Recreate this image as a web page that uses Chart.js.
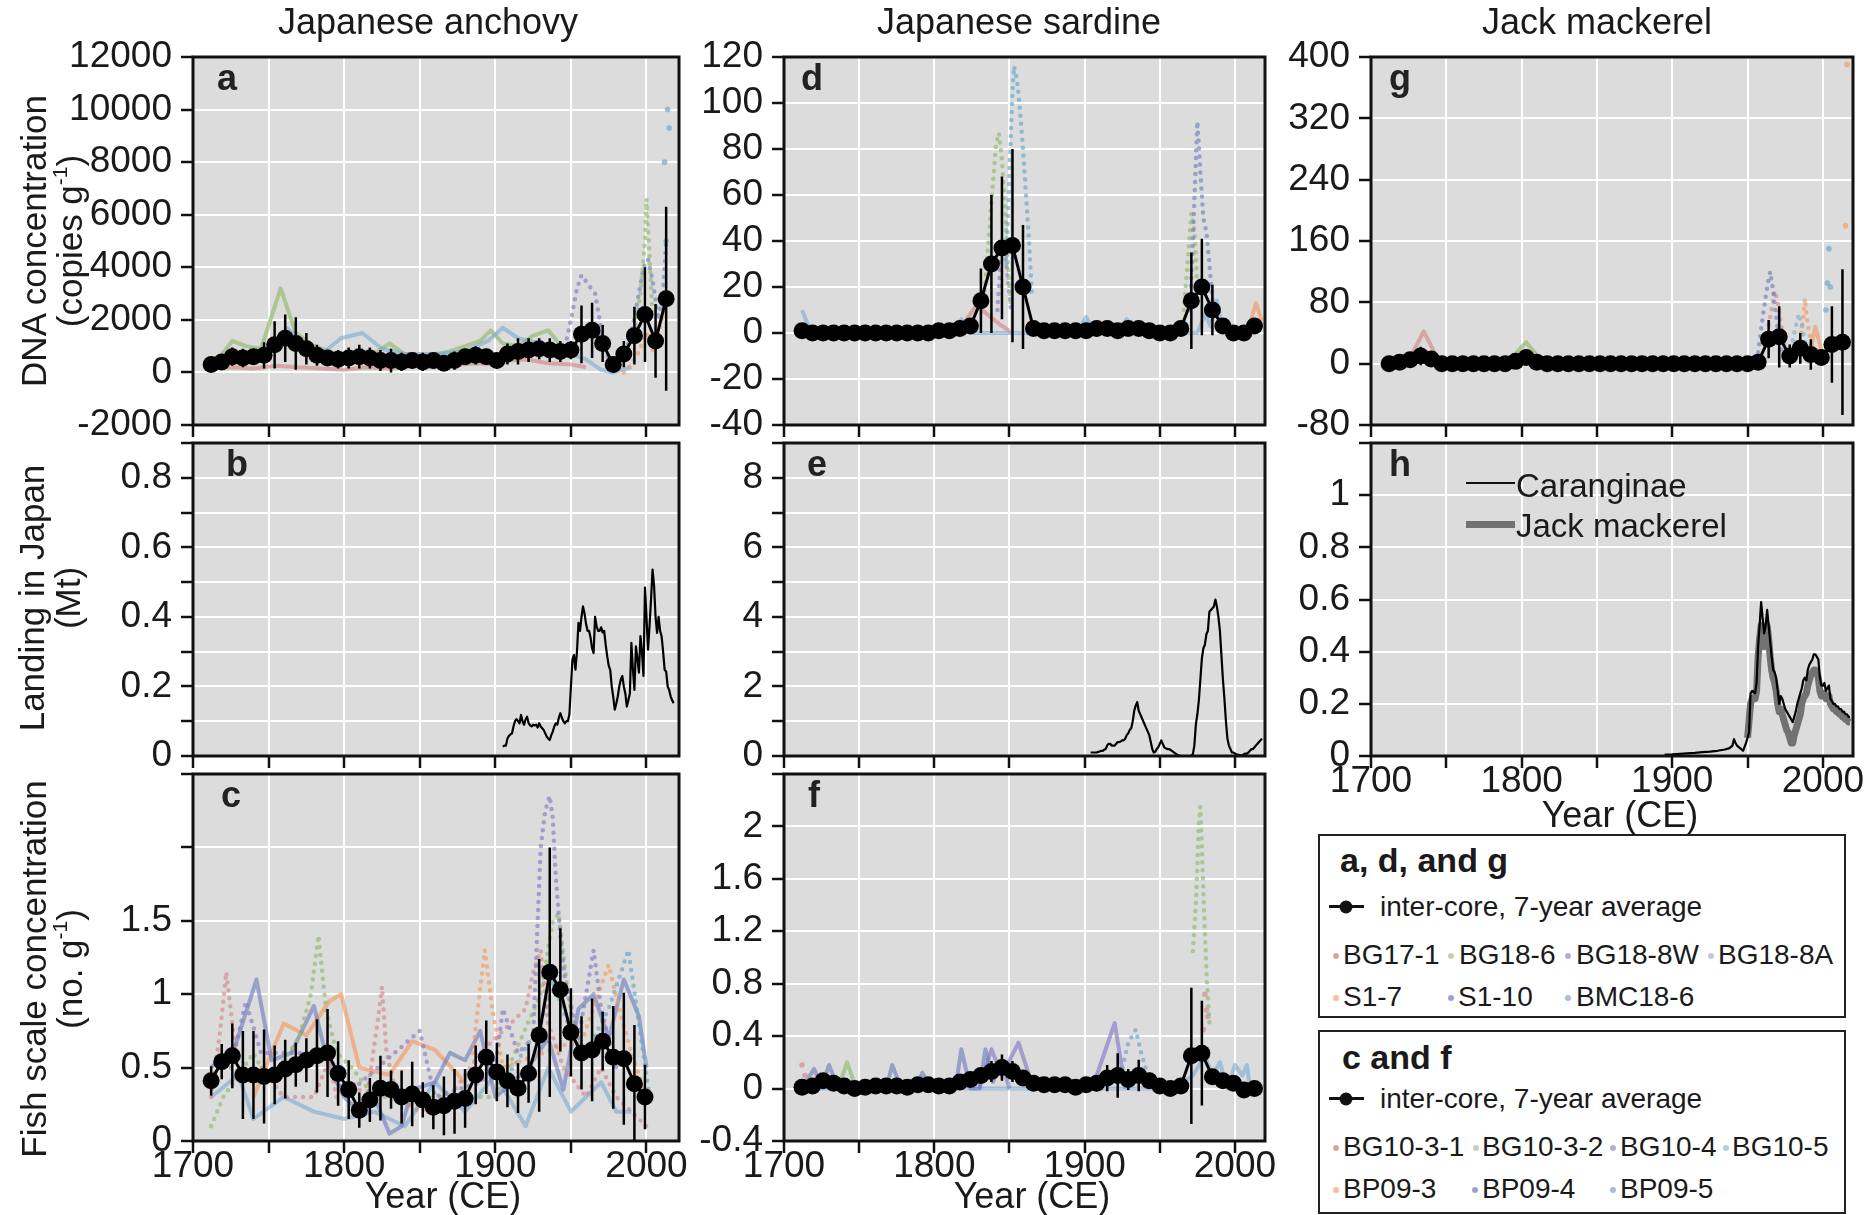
<!DOCTYPE html>
<html>
<head>
<meta charset="utf-8">
<script src="https://cdn.jsdelivr.net/npm/chart.js@4.4.1/dist/chart.umd.min.js"></script>
<style>
  body { margin: 0; background: #fff; font-family: "Liberation Sans", Arial, sans-serif; color: #1a1a1a; }
  #fig { position: relative; width: 1865px; height: 1215px; overflow: hidden; }
  canvas { position: absolute; }
  .c { position: absolute; transform: translate(-50%, -50%); line-height: 1; white-space: nowrap; z-index: 5; }
  .l { position: absolute; transform: translate(0, -50%); line-height: 1; white-space: nowrap; z-index: 5; }
  .ttl { font-size: 36px; }
  .ylab { position: absolute; transform: translate(-50%, -50%) rotate(-90deg); text-align: center;
          font-size: 35px; line-height: 36px; white-space: nowrap; z-index: 5; }
  .ylab sup { font-size: 60%; vertical-align: 0.7em; line-height: 0; }
  .let { position: absolute; font-weight: bold; font-size: 36px; line-height: 1; color: #222; z-index: 5; }
  .box { position: absolute; border: 2.5px solid #222; box-sizing: border-box; }
  .dot { position: absolute; width: 6px; height: 6px; border-radius: 50%; transform: translate(-50%, -50%); }
  .it { font-size: 28px; }
  .hd { font-size: 34px; font-weight: bold; }
</style>
</head>
<body>
<div id="fig">
  <!-- column titles -->
  <div class="c ttl" style="left:428px; top:22px;">Japanese anchovy</div>
  <div class="c ttl" style="left:1019px; top:22px;">Japanese sardine</div>
  <div class="c ttl" style="left:1597px; top:22px;">Jack mackerel</div>

  <!-- y axis titles -->
  <div class="ylab" style="left:52px; top:241px;">DNA concentration<br>(copies g<sup>-1</sup>)</div>
  <div class="ylab" style="left:50px; top:598px;">Landing in Japan<br>(Mt)</div>
  <div class="ylab" style="left:52px; top:969px;">Fish scale concentration<br>(no. g<sup>-1</sup>)</div>

  <!-- x axis titles -->
  <div class="c ttl" style="left:443px; top:1196px;">Year (CE)</div>
  <div class="c ttl" style="left:1032px; top:1196px;">Year (CE)</div>
  <div class="c ttl" style="left:1620px; top:815px;">Year (CE)</div>

  <!-- panel letters -->
  <div class="let" style="left:217px; top:60px;">a</div>
  <div class="let" style="left:226px; top:446px;">b</div>
  <div class="let" style="left:221px; top:777px;">c</div>
  <div class="let" style="left:801px; top:60px;">d</div>
  <div class="let" style="left:807px; top:446px;">e</div>
  <div class="let" style="left:808px; top:777px;">f</div>
  <div class="let" style="left:1389px; top:60px;">g</div>
  <div class="let" style="left:1389px; top:446px;">h</div>

  <!-- legend inside h -->
  <div style="position:absolute; left:1466px; top:482px; width:49px; height:2px; background:#111; z-index:5;"></div>
  <div class="l" style="left:1516px; top:485px; font-size:33px;">Caranginae</div>
  <div style="position:absolute; left:1466px; top:521px; width:49px; height:7px; background:#727272; z-index:5;"></div>
  <div class="l" style="left:1516px; top:525px; font-size:33px;">Jack mackerel</div>

  <!-- legend box 1 -->
  <div class="box" style="left:1318px; top:834px; width:528px; height:184px;"></div>
  <div class="l hd" style="left:1340px; top:860px;">a, d, and g</div>
  <div style="position:absolute; left:1329px; top:905px; width:35px; height:3px; background:#111;"></div>
  <div class="dot" style="left:1346px; top:907px; width:13px; height:13px; background:#111;"></div>
  <div class="l it" style="left:1380px; top:907px;">inter-core, 7-year average</div>
  <div class="dot" style="left:1336px; top:956px; background:#dba3a3;"></div>
  <div class="l it" style="left:1343px; top:955px;">BG17-1</div>
  <div class="dot" style="left:1451px; top:956px; background:#c4d2b4;"></div>
  <div class="l it" style="left:1459px; top:955px;">BG18-6</div>
  <div class="dot" style="left:1568px; top:956px; background:#b3aed4;"></div>
  <div class="l it" style="left:1576px; top:955px;">BG18-8W</div>
  <div class="dot" style="left:1711px; top:956px; background:#b6cde2;"></div>
  <div class="l it" style="left:1718px; top:955px;">BG18-8A</div>
  <div class="dot" style="left:1336px; top:998px; background:#f2c0a2;"></div>
  <div class="l it" style="left:1343px; top:997px;">S1-7</div>
  <div class="dot" style="left:1451px; top:998px; background:#9aa3cc;"></div>
  <div class="l it" style="left:1458px; top:997px;">S1-10</div>
  <div class="dot" style="left:1568px; top:998px; background:#a6bfd8;"></div>
  <div class="l it" style="left:1576px; top:997px;">BMC18-6</div>

  <!-- legend box 2 -->
  <div class="box" style="left:1318px; top:1030px; width:528px; height:184px;"></div>
  <div class="l hd" style="left:1342px; top:1057px;">c and f</div>
  <div style="position:absolute; left:1329px; top:1097px; width:35px; height:3px; background:#111;"></div>
  <div class="dot" style="left:1346px; top:1099px; width:13px; height:13px; background:#111;"></div>
  <div class="l it" style="left:1380px; top:1099px;">inter-core, 7-year average</div>
  <div class="dot" style="left:1336px; top:1148px; background:#dba3a3;"></div>
  <div class="l it" style="left:1343px; top:1147px;">BG10-3-1</div>
  <div class="dot" style="left:1476px; top:1148px; background:#c9cfc0;"></div>
  <div class="l it" style="left:1482px; top:1147px;">BG10-3-2</div>
  <div class="dot" style="left:1613px; top:1148px; background:#b3aed4;"></div>
  <div class="l it" style="left:1620px; top:1147px;">BG10-4</div>
  <div class="dot" style="left:1726px; top:1148px; background:#b6cde2;"></div>
  <div class="l it" style="left:1732px; top:1147px;">BG10-5</div>
  <div class="dot" style="left:1336px; top:1190px; background:#f2c0a2;"></div>
  <div class="l it" style="left:1343px; top:1189px;">BP09-3</div>
  <div class="dot" style="left:1475px; top:1190px; background:#9aa3cc;"></div>
  <div class="l it" style="left:1482px; top:1189px;">BP09-4</div>
  <div class="dot" style="left:1613px; top:1190px; background:#a6bfd8;"></div>
  <div class="l it" style="left:1620px; top:1189px;">BP09-5</div>
</div>

<script>
// ---- axis ticks ----
const xTicks = [1700, 1750, 1800, 1850, 1900, 1950, 2000];
const xTickLabels = ['1700', '', '1800', '', '1900', '', '2000'];
const aTicks = [-2000, 0, 2000, 4000, 6000, 8000, 10000, 12000];
const aLabels = ['-2000', '0', '2000', '4000', '6000', '8000', '10000', '12000'];
const bTicks = [0, 0.1, 0.2, 0.3, 0.4, 0.5, 0.6, 0.7, 0.8, 0.9];
const bLabels = ['0', '', '0.2', '', '0.4', '', '0.6', '', '0.8', ''];
const cTicks = [0, 0.5, 1, 1.5, 2, 2.5];
const cLabels = ['0', '0.5', '1', '1.5', '', ''];
const dTicks = [-40, -20, 0, 20, 40, 60, 80, 100, 120];
const dLabels = ['-40', '-20', '0', '20', '40', '60', '80', '100', '120'];
const eTicks = [0, 1, 2, 3, 4, 5, 6, 7, 8, 9];
const eLabels = ['0', '', '2', '', '4', '', '6', '', '8', ''];
const fTicks = [-0.4, 0, 0.4, 0.8, 1.2, 1.6, 2, 2.4];
const fLabels = ['-0.4', '0', '0.4', '0.8', '1.2', '1.6', '2', ''];
const gTicks = [-80, 0, 80, 160, 240, 320, 400];
const gLabels = ['-80', '0', '80', '160', '240', '320', '400'];
const hTicks = [0, 0.2, 0.4, 0.6, 0.8, 1, 1.2];
const hLabels = ['0', '0.2', '0.4', '0.6', '0.8', '1', ''];

// ---- inter-core 7-year averages ----
const avgYears = [1712, 1719, 1726, 1733, 1740, 1747, 1754, 1761, 1768, 1775, 1782, 1789, 1796, 1803, 1810,
  1817, 1824, 1831, 1838, 1845, 1852, 1859, 1866, 1873, 1880, 1887, 1894, 1901, 1908, 1915, 1922, 1929,
  1936, 1943, 1950, 1957, 1964, 1971, 1978, 1985, 1992, 1999, 2006, 2013];

const aAvg = [300, 400, 600, 550, 600, 650, 1050, 1300, 1100, 900, 650, 550, 500, 550, 600, 550, 450, 450,
  400, 450, 400, 450, 350, 450, 600, 650, 600, 450, 700, 800, 850, 900, 850, 800, 850, 1450, 1600, 1100,
  300, 700, 1400, 2200, 1200, 2800];
const aErr = [200, 250, 350, 350, 300, 500, 900, 900, 1000, 600, 400, 300, 350, 400, 450, 400, 400, 450,
  350, 300, 350, 300, 250, 350, 300, 350, 300, 300, 400, 500, 450, 400, 450, 400, 350, 1100, 1050, 700,
  250, 500, 1100, 1800, 1400, 3500];

const dAvg = [1, 0, 0, 0, 0, 0, 0, 0, 0, 0, 0, 0, 0, 1, 1, 2, 3, 14, 30, 37, 38, 20, 2, 1, 1, 1, 1, 1, 2, 2,
  1, 2, 2, 1, 0, 0, 2, 14, 20, 10, 3, 0, 0, 3];
const dErr = [1, 1, 1, 1, 1, 1, 1, 1, 1, 1, 1, 1, 1, 1, 1, 2, 2, 14, 30, 31, 42, 27, 2, 1, 1, 1, 1, 1, 2, 2,
  1, 2, 2, 1, 1, 1, 2, 21, 21, 11, 2, 1, 1, 2];

const gAvg = [0, 2, 5, 10, 6, 0, 0, 0, 0, 0, 0, 0, 3, 8, 2, 0, 0, 0, 0, 0, 0, 0, 0, 0, 0, 0, 0, 0, 0, 0,
  0, 0, 0, 0, 0, 2, 32, 35, 10, 20, 12, 8, 25, 28];
const gErr = [2, 3, 5, 12, 5, 2, 2, 2, 2, 2, 2, 2, 3, 6, 3, 2, 2, 2, 2, 2, 2, 2, 2, 2, 2, 2, 2, 2, 2, 2,
  2, 2, 2, 2, 2, 3, 25, 40, 15, 20, 20, 10, 50, 95];

const cAvg = [0.41, 0.54, 0.58, 0.45, 0.45, 0.44, 0.45, 0.49, 0.52, 0.55, 0.58, 0.6, 0.46, 0.35, 0.21, 0.28,
  0.36, 0.35, 0.3, 0.32, 0.28, 0.23, 0.24, 0.27, 0.29, 0.45, 0.57, 0.47, 0.41, 0.36, 0.46, 0.72, 1.15, 1.03,
  0.74, 0.6, 0.62, 0.68, 0.57, 0.56, 0.39, 0.3];
const cErr = [0.1, 0.12, 0.22, 0.3, 0.3, 0.32, 0.2, 0.2, 0.15, 0.15, 0.25, 0.3, 0.22, 0.2, 0.12, 0.15, 0.22,
  0.13, 0.18, 0.22, 0.12, 0.15, 0.2, 0.22, 0.2, 0.2, 0.25, 0.2, 0.18, 0.17, 0.2, 0.52, 0.85, 0.42, 0.3, 0.25,
  0.35, 0.2, 0.35, 0.45, 0.4, 0.22];

const fAvg = [0.01, 0.02, 0.06, 0.04, 0.02, 0, 0.01, 0.02, 0.02, 0.02, 0.01, 0.03, 0.03, 0.02, 0.02, 0.05,
  0.07, 0.1, 0.13, 0.16, 0.13, 0.08, 0.04, 0.03, 0.03, 0.03, 0.01, 0.03, 0.04, 0.08, 0.1, 0.07, 0.1, 0.06,
  0.02, 0, 0.02, 0.25, 0.27, 0.09, 0.06, 0.04, -0.01, 0];
const fErr = [0.03, 0.04, 0.04, 0.03, 0.03, 0.03, 0.03, 0.03, 0.03, 0.03, 0.03, 0.03, 0.04, 0.04, 0.05,
  0.05, 0.06, 0.06, 0.08, 0.1, 0.08, 0.05, 0.04, 0.04, 0.03, 0.03, 0.03, 0.04, 0.06, 0.1, 0.17, 0.08, 0.12,
  0.06, 0.04, 0.03, 0.04, 0.52, 0.4, 0.06, 0.05, 0.04, 0.03, 0.03];

// ---- individual cores, panel a ----
const aBG17_1 = [[1712,150],[1725,200],[1740,150],[1755,250],[1770,200],[1785,150],[1800,100],[1815,200],
  [1830,150],[1845,250],[1860,200],[1875,300],[1890,350],[1900,300],[1910,450],[1920,500],[1935,350],[1950,300],[1960,200]];
const aBG18_6 = [[1712,300],[1718,600],[1726,1200],[1735,1000],[1745,900],[1758,3200],[1768,1500],[1780,1000],
  [1795,700],[1810,600],[1822,800],[1830,1100],[1840,700],[1855,600],[1870,800],[1880,1000],[1890,1200],
  [1897,1600],[1905,1100],[1915,1000],[1925,1400],[1935,1600],[1945,900],[1955,700]];
const aBG18_6late = [[1992,1500],[1996,3000],[1999,5000],[2000,6600],[2002,4500],[2004,2000]];
const aBG18_8A = [[1712,400],[1740,500],[1755,900],[1762,1700],[1772,1200],[1785,700],[1798,1300],[1812,1500],
  [1825,900],[1840,700],[1860,700],[1880,800],[1895,1200],[1905,1700],[1915,1300],[1930,1100],[1945,800],
  [1960,500],[1970,100],[1978,0],[1990,200]];
const aBG18_8W = [[1945,700],[1950,2000],[1954,3200],[1957,3700],[1962,3300],[1966,3000],[1969,2000],
  [1972,1000],[1976,300],[1980,0]];
const aS1_10 = [[1985,500],[1990,1500],[1995,3000],[1998,4000],[2001,4300],[2004,3500],[2008,2000],[2011,3000],[2013,5000]];
const aS1_7 = [[1985,0],[1990,300],[1995,800],[2000,1500],[2005,700],[2010,2000],[2014,2500]];
const aBMC18_6 = [[2012,8000],[2013,5000],[2014,10000],[2015,9300]];

// ---- individual cores, panel d ----
const dBG18_8A = [[1712,10],[1718,0],[1810,0],[1818,6],[1824,0],[1895,0],[1901,7],[1907,0],[1922,0],[1928,6],
  [1934,0],[1975,0],[1980,8],[1984,3],[1988,14],[1992,0]];
const dBG17_1 = [[1815,0],[1828,12],[1843,4],[1852,0]];
const dBG18_6 = [[1833,15],[1836,40],[1839,65],[1841,82],[1843,87],[1845,75],[1847,55],[1849,30],[1851,10]];
const dBMC18_6 = [[1848,30],[1850,70],[1852,105],[1853,116],[1855,110],[1857,97],[1859,80],[1861,60],[1863,40],[1865,15]];
const dBG18_8W = [[1842,10],[1845,40],[1848,30],[1851,10]];
const dBG18_6late = [[1966,10],[1969,35],[1971,52],[1973,45],[1975,20]];
const dS1_10 = [[1970,10],[1972,40],[1974,75],[1975,92],[1977,70],[1979,50],[1981,44],[1983,30],[1985,15],[1988,5]];
const dS1_7 = [[2008,0],[2014,13],[2018,5]];

// ---- individual cores, panel g ----
const gBG17_1 = [[1712,0],[1724,0],[1735,42],[1746,0],[1760,0]];
const gBG18_6 = [[1790,0],[1803,28],[1815,0]];
const gS1_10 = [[1957,15],[1960,60],[1963,100],[1965,120],[1967,95],[1970,45],[1973,10]];
const gBG17_1late = [[1962,30],[1965,60],[1968,95],[1970,80],[1973,40],[1976,10]];
const gBG18_8A = [[1978,10],[1981,40],[1984,65],[1986,50],[1989,20],[1992,5]];
const gS1_7 = [[1984,20],[1987,60],[1988,85],[1990,50],[1993,20]];
const gS1_7line = [[1990,0],[1995,48],[2000,10]];
const gBMC18_6 = [[2002,70],[2003,105],[2004,150],[2005,100]];
const gS1_7top = [[2015,180],[2016,390]];

// ---- individual cores, panel c ----
const cBP09_4 = [[1712,0.5],[1728,0.65],[1742,1.1],[1752,0.55],[1765,0.6],[1780,0.92],[1790,0.5],[1800,0.3],
  [1810,0.2],[1820,0.3],[1830,0.05],[1838,0.1],[1845,0.35],[1860,0.4],[1870,0.6],[1880,0.55],[1890,0.75],
  [1900,0.3],[1912,0.4],[1925,0.55],[1935,0.7],[1945,0.35],[1955,0.9],[1965,1.0],[1975,0.7],[1985,1.1],[1995,0.85],[2000,0.5]];
const cBP09_3 = [[1740,0.3],[1760,0.8],[1775,0.72],[1790,0.95],[1798,1.0],[1810,0.5],[1830,0.45],[1845,0.68],[1860,0.62],[1880,0.4]];
const cBG10_5 = [[1712,0.3],[1730,0.45],[1740,0.15],[1760,0.3],[1780,0.2],[1800,0.15],[1820,0.2],[1840,0.1],
  [1860,0.4],[1880,0.2],[1900,0.45],[1920,0.1],[1935,0.5],[1950,0.2],[1960,0.3],[1970,0.4],[1980,0.2],[1990,0.2]];
const cBG10_3_1 = [[1712,0.3],[1718,0.75],[1722,1.15],[1726,0.8],[1730,0.4],[1745,0.5],[1760,0.3],[1780,0.3],
  [1790,0.55],[1795,0.3],[1805,0.4],[1815,0.3],[1822,0.8],[1825,1.05],[1828,0.6],[1835,0.3],[1850,0.2],
  [1870,0.3],[1890,0.6],[1920,0.9],[1925,1.15],[1930,1.3],[1935,0.8],[1945,0.5],[1960,0.3],[1970,0.5],
  [1980,0.3],[1990,0.2],[2000,0.1]];
const cBG10_3_2 = [[1712,0.1],[1720,0.3],[1740,0.6],[1750,0.4],[1770,0.7],[1778,1.0],[1783,1.4],[1788,0.9],
  [1795,0.6],[1805,0.5],[1820,0.3],[1900,0.3],[1930,1.0],[1938,1.5],[1942,1.55],[1948,1.0],[1955,0.6]];
const cBG10_4 = [[1725,0.5],[1735,0.95],[1745,0.6],[1790,0.6],[1800,0.3],[1850,0.75],[1860,0.3],[1890,0.4],
  [1900,0.5],[1905,0.9],[1915,0.6],[1925,0.7],[1928,1.5],[1930,2.0],[1933,2.25],[1936,2.35],[1938,2.2],
  [1940,1.8],[1943,1.4],[1946,1.1],[1955,0.7],[1965,1.3],[1970,0.9],[1980,0.5]];
const cBP09_3dots = [[1885,0.6],[1893,1.3],[1898,0.9],[1905,0.5],[1958,0.7],[1968,1.0],[1975,1.2],[1982,0.9],[1990,0.6],[2000,0.3]];
const cBP09_5 = [[1905,0.4],[1915,0.55],[1930,0.8],[1938,1.1],[1948,0.8],[1960,0.6],[1975,0.9],[1988,1.3],[1995,0.8],[2002,0.3]];

// ---- individual cores, panel f ----
const fBG10_3_2 = [[1972,1.05],[1974,1.4],[1975,1.7],[1976,2.05],[1977,2.15],[1978,1.85],[1979,1.5],[1980,1.2],[1981,0.9],[1983,0.5]];
const fBP09_4 = [[1712,0],[1720,0.15],[1725,0.02],[1730,0.18],[1736,0],[1768,0],[1772,0.18],[1778,0],[1788,0],
  [1792,0.12],[1798,0],[1814,0],[1818,0.3],[1824,0],[1830,0],[1834,0.3],[1839,0.05],[1845,0.2],[1850,0]];
const fBG10_4 = [[1830,0],[1838,0.3],[1845,0.1],[1856,0.35],[1866,0],[1905,0],[1914,0.3],[1920,0.5],[1927,0]];
const fBG10_3_2line = [[1736,0],[1742,0.2],[1748,0]];
const fBP09_5 = [[1924,0.1],[1929,0.35],[1934,0.45],[1937,0.3],[1942,0.1]];
const fBG10_3_1 = [[1712,0.18],[1714,0.1],[1979,0.45],[1980,0.72],[1981,0.6],[1982,0.55]];
const fBG10_5 = [[1712,0],[1800,0],[1900,0],[1960,0],[1972,0.1],[1980,0.25],[1985,0.1],[1990,0.2],[1995,0],
  [2000,0.18],[2005,0.1],[2008,0.18],[2010,0]];

// ---- landings (Mt) ----
const anchovyLanding = [[1905,0.027],[1906,0.03],[1907,0.03],[1908,0.05],[1909,0.058],[1910,0.062],[1911,0.065],
  [1912,0.085],[1913,0.1],[1914,0.106],[1915,0.1],[1916,0.094],[1917,0.118],[1918,0.1],[1919,0.09],[1920,0.105],
  [1921,0.113],[1922,0.095],[1923,0.088],[1924,0.085],[1925,0.09],[1926,0.088],[1927,0.09],[1928,0.082],
  [1929,0.094],[1930,0.085],[1931,0.08],[1932,0.075],[1933,0.065],[1934,0.056],[1935,0.05],[1936,0.046],
  [1937,0.06],[1938,0.07],[1939,0.085],[1940,0.094],[1941,0.09],[1942,0.11],[1943,0.123],[1944,0.11],
  [1945,0.1],[1946,0.094],[1947,0.1],[1948,0.1],[1949,0.12],[1950,0.2],[1951,0.277],[1952,0.29],[1953,0.248],
  [1954,0.3],[1955,0.383],[1956,0.36],[1957,0.4],[1958,0.43],[1959,0.41],[1960,0.38],[1961,0.36],[1962,0.36],
  [1963,0.34],[1964,0.31],[1965,0.296],[1966,0.4],[1967,0.373],[1968,0.36],[1969,0.36],[1970,0.37],[1971,0.355],
  [1972,0.36],[1973,0.32],[1974,0.287],[1975,0.26],[1976,0.248],[1977,0.2],[1978,0.17],[1979,0.133],[1980,0.15],
  [1981,0.171],[1982,0.2],[1983,0.22],[1984,0.23],[1985,0.2],[1986,0.18],[1987,0.142],[1988,0.16],[1989,0.18],
  [1990,0.325],[1991,0.25],[1992,0.19],[1993,0.315],[1994,0.28],[1995,0.24],[1996,0.345],[1997,0.3],[1998,0.23],
  [1999,0.484],[2000,0.4],[2001,0.306],[2002,0.373],[2003,0.45],[2004,0.536],[2005,0.49],[2006,0.4],[2007,0.354],
  [2008,0.4],[2009,0.36],[2010,0.344],[2011,0.3],[2012,0.248],[2013,0.243],[2014,0.2],[2015,0.19],[2016,0.171],
  [2017,0.16],[2018,0.152]];
const sardineLanding = [[1904,0.1],[1905,0.1],[1906,0.1],[1907,0.1],[1908,0.1],[1909,0.12],[1910,0.13],[1911,0.15],
  [1912,0.15],[1913,0.18],[1914,0.2],[1915,0.3],[1916,0.35],[1917,0.35],[1918,0.3],[1919,0.3],[1920,0.3],[1921,0.35],
  [1922,0.4],[1923,0.4],[1924,0.42],[1925,0.45],[1926,0.45],[1927,0.5],[1928,0.6],[1929,0.65],[1930,0.75],[1931,0.8],
  [1932,1.0],[1933,1.3],[1934,1.45],[1935,1.55],[1936,1.3],[1937,1.2],[1938,1.1],[1939,1.0],[1940,0.9],[1941,0.8],
  [1942,0.7],[1943,0.6],[1944,0.4],[1945,0.2],[1946,0.1],[1947,0.12],[1948,0.2],[1949,0.25],[1950,0.35],[1951,0.45],
  [1952,0.35],[1953,0.25],[1954,0.22],[1955,0.2],[1956,0.2],[1957,0.18],[1958,0.15],[1959,0.12],[1960,0.08],
  [1961,0.05],[1962,0.03],[1963,0.01],[1964,0],[1965,0],[1966,0],[1967,0],[1968,0],[1969,0],[1970,0],[1971,0.01],
  [1972,0.05],[1973,0.3],[1974,0.9],[1975,1.2],[1976,1.6],[1977,2.2],[1978,2.8],[1979,3.1],[1980,3.2],[1981,3.5],
  [1982,3.6],[1983,4.15],[1984,4.2],[1985,4.25],[1986,4.3],[1987,4.5],[1988,4.3],[1989,4.0],[1990,3.6],[1991,2.9],
  [1992,2.2],[1993,1.65],[1994,1.0],[1995,0.5],[1996,0.3],[1997,0.2],[1998,0.1],[1999,0.1],[2000,0.07],[2001,0.05],
  [2002,0.03],[2003,0.03],[2004,0.02],[2005,0.03],[2006,0.05],[2007,0.07],[2008,0.07],[2009,0.1],[2010,0.15],
  [2011,0.2],[2012,0.2],[2013,0.25],[2014,0.3],[2015,0.35],[2016,0.4],[2017,0.45],[2018,0.5]];
const caranginaeLanding = [[1895,0.005],[1900,0.006],[1905,0.008],[1910,0.01],[1915,0.012],[1920,0.015],[1925,0.017],
  [1930,0.02],[1935,0.025],[1938,0.03],[1940,0.04],[1941,0.065],[1942,0.05],[1943,0.04],[1945,0.03],[1947,0.02],
  [1949,0.05],[1951,0.09],[1952,0.24],[1953,0.25],[1955,0.24],[1956,0.28],[1957,0.42],[1958,0.5],[1959,0.59],
  [1960,0.53],[1961,0.47],[1962,0.5],[1963,0.56],[1964,0.5],[1965,0.44],[1966,0.38],[1967,0.33],[1968,0.32],
  [1969,0.3],[1970,0.25],[1971,0.2],[1972,0.23],[1973,0.22],[1974,0.2],[1975,0.18],[1976,0.17],[1977,0.16],
  [1978,0.15],[1979,0.14],[1980,0.13],[1981,0.15],[1982,0.17],[1983,0.2],[1984,0.22],[1985,0.24],[1986,0.26],
  [1987,0.29],[1988,0.3],[1989,0.29],[1990,0.33],[1991,0.35],[1992,0.36],[1993,0.37],[1994,0.39],[1995,0.39],
  [1996,0.38],[1997,0.37],[1998,0.3],[1999,0.27],[2000,0.27],[2001,0.28],[2002,0.25],[2003,0.26],[2004,0.27],
  [2005,0.22],[2006,0.21],[2007,0.2],[2008,0.2],[2009,0.19],[2010,0.19],[2011,0.18],[2012,0.18],[2013,0.17],
  [2014,0.17],[2015,0.16],[2016,0.16],[2017,0.15],[2018,0.15]];
const jackLanding = [[1950,0.07],[1952,0.2],[1953,0.22],[1955,0.22],[1956,0.25],[1957,0.38],[1958,0.45],[1959,0.5],
  [1960,0.46],[1961,0.42],[1962,0.45],[1963,0.5],[1964,0.45],[1965,0.38],[1966,0.33],[1967,0.3],[1968,0.28],
  [1969,0.25],[1970,0.2],[1971,0.17],[1972,0.18],[1973,0.16],[1974,0.14],[1975,0.12],[1976,0.1],[1977,0.09],
  [1978,0.07],[1979,0.05],[1980,0.05],[1981,0.08],[1982,0.1],[1983,0.12],[1984,0.14],[1985,0.16],[1986,0.2],
  [1987,0.22],[1988,0.23],[1989,0.24],[1990,0.27],[1991,0.29],[1992,0.31],[1993,0.32],[1994,0.33],[1995,0.33],
  [1996,0.32],[1997,0.3],[1998,0.25],[1999,0.23],[2000,0.23],[2001,0.24],[2002,0.22],[2003,0.23],[2004,0.23],
  [2005,0.2],[2006,0.19],[2007,0.18],[2008,0.18],[2009,0.17],[2010,0.17],[2011,0.16],[2012,0.16],[2013,0.15],
  [2014,0.15],[2015,0.14],[2016,0.14],[2017,0.13],[2018,0.13]];

// ---- layout ----
const fig = document.getElementById('fig');
const FONT = "'Liberation Sans', Arial, sans-serif";
const ROWS = [{ t: 57, b: 425 }, { t: 443, b: 756 }, { t: 774, b: 1141 }];
const COLS = [{ l: 193, r: 679, cl: 0, xmax: 2021.5 }, { l: 784, r: 1265, cl: 690, xmax: 2020 },
              { l: 1371, r: 1853, cl: 1272, xmax: 2020 }];
const C = {
  red: 'rgba(212,128,128,0.6)', green: 'rgba(150,188,112,0.7)', purple: 'rgba(140,128,196,0.7)',
  blue: 'rgba(122,170,212,0.6)', orange: 'rgba(242,156,102,0.7)', slate: 'rgba(104,120,188,0.6)',
  teal: 'rgba(108,170,204,0.7)'
};

const pairs = arr => arr.map(([x, y]) => ({ x, y }));

function avgSet(ys, n) {
  return { data: avgYears.slice(0, n).map((x, i) => ({ x, y: ys[i] })), showLine: true, borderColor: '#000',
           borderWidth: 3, pointRadius: 8.5, pointBackgroundColor: '#000', pointBorderWidth: 0 };
}
function errSet(ys, es, n) {
  const d = [];
  avgYears.slice(0, n).forEach((x, i) => { d.push({ x, y: ys[i] - es[i] }, { x, y: ys[i] + es[i] }, { x, y: null }); });
  return { data: d, showLine: true, spanGaps: false, borderColor: '#000', borderWidth: 2.5, pointRadius: 0 };
}
function coreLine(arr, color, w) {
  return { data: pairs(arr), showLine: true, borderColor: color, borderWidth: w || 4, pointRadius: 0, borderJoinStyle: 'round' };
}
function coreDots(arr, color) {
  return { data: pairs(arr), showLine: true, borderColor: color, borderWidth: 4.5, borderDash: [0, 8],
           borderCapStyle: 'round', pointRadius: 0 };
}
function coreMarks(arr, color) {
  return { data: pairs(arr), showLine: false, pointRadius: 2.8, pointBackgroundColor: color, pointBorderWidth: 0 };
}

const framePlugin = {
  id: 'frame',
  beforeDraw(chart) {
    const { ctx, chartArea: a } = chart;
    ctx.save();
    ctx.fillStyle = '#dcdcdc';
    ctx.fillRect(a.left, a.top, a.right - a.left, a.bottom - a.top);
    ctx.restore();
  },
  afterDraw(chart) {
    const { ctx, chartArea: a } = chart;
    ctx.save();
    ctx.strokeStyle = '#111';
    ctx.lineWidth = 3;
    ctx.strokeRect(a.left, a.top, a.right - a.left, a.bottom - a.top);
    ctx.restore();
  }
};

// scale size is fixed and label overflow padding switched off so the plot box lands where we want it
function fixSize(s, key, v) {
  s[key] = v;
  s.paddingTop = 0; s.paddingBottom = 0; s.paddingLeft = 0; s.paddingRight = 0;
}

function panel(col, row, o) {
  const padTop = 22, padRight = 12;
  const { l, r, cl, xmax } = COLS[col];
  const { t, b } = ROWS[row];
  const xh = o.xLabels ? 62 : 16;
  const w = r - cl + padRight, h = b - t + padTop + xh;
  const cv = document.createElement('canvas');
  cv.width = w; cv.height = h;
  Object.assign(cv.style, { left: cl + 'px', top: (t - padTop) + 'px', width: w + 'px', height: h + 'px' });
  fig.appendChild(cv);
  const grid = { color: '#ffffff', lineWidth: 2, tickColor: '#111', tickLength: 12, tickWidth: 2.5 };
  const tickFont = { family: FONT, size: 37, lineHeight: 1.2 };
  new Chart(cv, {
    type: 'scatter',
    data: { datasets: o.datasets },
    options: {
      responsive: false, animation: false, devicePixelRatio: 1,
      layout: { padding: { top: padTop, right: padRight, left: 0, bottom: 0 } },
      plugins: { legend: { display: false }, tooltip: { enabled: false } },
      scales: {
        x: {
          type: 'linear', min: 1700, max: xmax,
          afterBuildTicks: ax => { ax.ticks = xTicks.map(v => ({ value: v })); },
          afterFit: s => fixSize(s, 'height', xh),
          grid, border: { display: false },
          ticks: { autoSkip: false, maxRotation: 0, padding: -8, color: '#1a1a1a', font: tickFont,
                   callback: (v, i) => (o.xLabels ? xTickLabels[i] : '') }
        },
        y: {
          type: 'linear', min: o.yTicks[0], max: o.yTicks[o.yTicks.length - 1],
          afterBuildTicks: ax => { ax.ticks = o.yTicks.map(v => ({ value: v })); },
          afterFit: s => fixSize(s, 'width', l - cl),
          grid, border: { display: false },
          ticks: { autoSkip: false, padding: 9, color: '#1a1a1a', font: tickFont,
                   callback: (v, i) => o.yLabels[i] }
        }
      }
    },
    plugins: [framePlugin]
  });
}

// a: anchovy DNA
panel(0, 0, { yTicks: aTicks, yLabels: aLabels, datasets: [
  avgSet(aAvg, 44), errSet(aAvg, aErr, 44),
  coreMarks(aBMC18_6, C.teal), coreDots(aS1_10, C.slate), coreDots(aBG18_8W, C.purple),
  coreDots(aBG18_6late, C.green), coreDots(aS1_7, C.orange),
  coreLine(aBG18_8A, C.blue), coreLine(aBG18_6, C.green), coreLine(aBG17_1, C.red)
] });
// b: anchovy landing
panel(0, 1, { yTicks: bTicks, yLabels: bLabels, datasets: [coreLine(anchovyLanding, '#000', 2.2)] });
// c: anchovy scales
panel(0, 2, { xLabels: true, yTicks: cTicks, yLabels: cLabels, datasets: [
  avgSet(cAvg, 42), errSet(cAvg, cErr, 42),
  coreDots(cBG10_4, C.purple), coreDots(cBG10_3_1, C.red), coreDots(cBG10_3_2, C.green),
  coreDots(cBP09_3dots, C.orange), coreDots(cBP09_5, C.teal),
  coreLine(cBP09_4, C.slate), coreLine(cBP09_3, C.orange), coreLine(cBG10_5, C.blue)
] });
// d: sardine DNA
panel(1, 0, { yTicks: dTicks, yLabels: dLabels, datasets: [
  avgSet(dAvg, 44), errSet(dAvg, dErr, 44),
  coreDots(dBMC18_6, C.teal), coreDots(dBG18_6, C.green), coreDots(dBG18_8W, C.purple),
  coreDots(dS1_10, C.slate), coreDots(dBG18_6late, C.green),
  coreLine(dBG18_8A, C.blue), coreLine(dBG17_1, C.red), coreLine(dS1_7, C.orange)
] });
// e: sardine landing
panel(1, 1, { yTicks: eTicks, yLabels: eLabels, datasets: [coreLine(sardineLanding, '#000', 2.2)] });
// f: sardine scales
panel(1, 2, { xLabels: true, yTicks: fTicks, yLabels: fLabels, datasets: [
  avgSet(fAvg, 44), errSet(fAvg, fErr, 44),
  coreDots(fBG10_3_2, C.green), coreDots(fBP09_5, C.teal), coreMarks(fBG10_3_1, C.red),
  coreLine(fBP09_4, C.slate), coreLine(fBG10_4, C.purple), coreLine(fBG10_3_2line, C.green),
  coreLine(fBG10_5, C.blue)
] });
// g: jack mackerel DNA
panel(2, 0, { yTicks: gTicks, yLabels: gLabels, datasets: [
  avgSet(gAvg, 44), errSet(gAvg, gErr, 44),
  coreMarks(gS1_7top, C.orange), coreMarks(gBMC18_6, C.teal),
  coreDots(gS1_10, C.slate), coreDots(gBG17_1late, C.red), coreDots(gBG18_8A, C.blue), coreDots(gS1_7, C.orange),
  coreLine(gS1_7line, C.orange), coreLine(gBG17_1, C.red), coreLine(gBG18_6, C.green)
] });
// h: jack mackerel landing
panel(2, 1, { xLabels: true, yTicks: hTicks, yLabels: hLabels, datasets: [
  coreLine(caranginaeLanding, '#000', 2.2), coreLine(jackLanding, '#727272', 7)
] });
</script>
</body>
</html>
